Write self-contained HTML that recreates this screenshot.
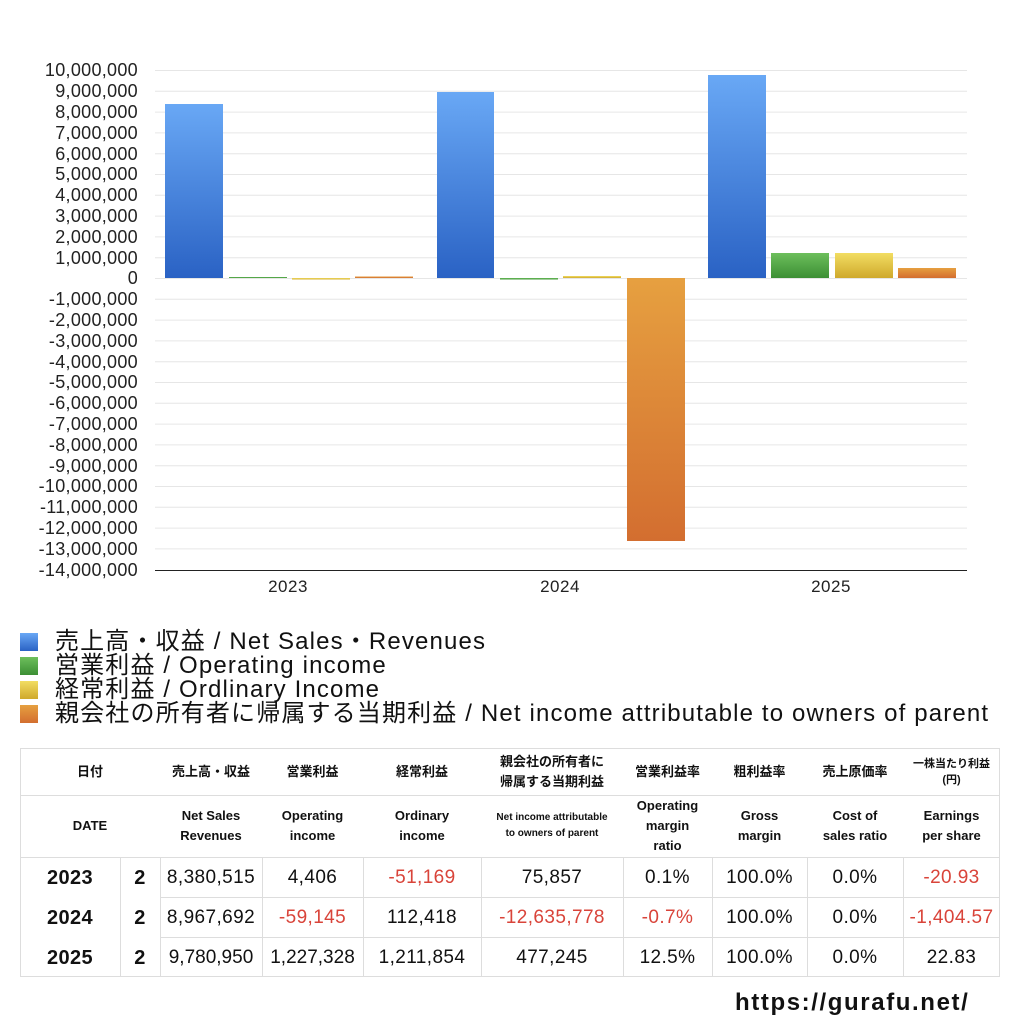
<!DOCTYPE html>
<html><head><meta charset="utf-8"><style>
body{margin:0;width:1024px;height:1024px;background:#fff;position:relative;overflow:hidden;font-family:"Liberation Sans","Noto Sans CJK JP",sans-serif;}
.a{position:absolute;}
.lg{position:absolute;left:20px;width:18px;height:18px;}
.lt{position:absolute;left:55px;font-size:24px;line-height:24px;color:#111;white-space:nowrap;letter-spacing:1.15px;}
.c{position:absolute;display:flex;align-items:center;justify-content:center;text-align:center;color:#111;}
.h{font-size:13px;font-weight:bold;line-height:20px;}
.d{font-size:19px;letter-spacing:0.4px;}
.r{color:#d9443a;}
</style></head><body>
<svg class="a" style="left:0;top:0" width="1024" height="600">
<defs>
<linearGradient id="gb" x1="0" y1="0" x2="0" y2="1"><stop offset="0" stop-color="#69a8f5"/><stop offset="1" stop-color="#2a62c4"/></linearGradient>
<linearGradient id="gg" x1="0" y1="0" x2="0" y2="1"><stop offset="0" stop-color="#6dbf5c"/><stop offset="1" stop-color="#3c8f34"/></linearGradient>
<linearGradient id="gy" x1="0" y1="0" x2="0" y2="1"><stop offset="0" stop-color="#f2dd62"/><stop offset="1" stop-color="#cfa92c"/></linearGradient>
<linearGradient id="go" x1="0" y1="0" x2="0" y2="1"><stop offset="0" stop-color="#e6a040"/><stop offset="1" stop-color="#d36e30"/></linearGradient>
</defs>
<g stroke="#e6e6e6" stroke-width="1">
<line x1="155" x2="967" y1="70.5" y2="70.5"/><line x1="155" x2="967" y1="91.3" y2="91.3"/><line x1="155" x2="967" y1="112.1" y2="112.1"/><line x1="155" x2="967" y1="132.9" y2="132.9"/><line x1="155" x2="967" y1="153.7" y2="153.7"/><line x1="155" x2="967" y1="174.5" y2="174.5"/><line x1="155" x2="967" y1="195.3" y2="195.3"/><line x1="155" x2="967" y1="216.1" y2="216.1"/><line x1="155" x2="967" y1="236.9" y2="236.9"/><line x1="155" x2="967" y1="257.7" y2="257.7"/><line x1="155" x2="967" y1="278.5" y2="278.5"/><line x1="155" x2="967" y1="299.3" y2="299.3"/><line x1="155" x2="967" y1="320.1" y2="320.1"/><line x1="155" x2="967" y1="340.9" y2="340.9"/><line x1="155" x2="967" y1="361.7" y2="361.7"/><line x1="155" x2="967" y1="382.5" y2="382.5"/><line x1="155" x2="967" y1="403.3" y2="403.3"/><line x1="155" x2="967" y1="424.1" y2="424.1"/><line x1="155" x2="967" y1="444.9" y2="444.9"/><line x1="155" x2="967" y1="465.7" y2="465.7"/><line x1="155" x2="967" y1="486.5" y2="486.5"/><line x1="155" x2="967" y1="507.3" y2="507.3"/><line x1="155" x2="967" y1="528.1" y2="528.1"/><line x1="155" x2="967" y1="548.9" y2="548.9"/>
</g>
<line x1="155" x2="967" y1="570.5" y2="570.5" stroke="#222"/>
<rect x="165" y="104" width="58" height="174" fill="url(#gb)"/>
<rect x="229" y="277" width="58" height="1" fill="url(#gg)"/>
<rect x="292" y="278" width="58" height="1.5" fill="url(#gy)"/>
<rect x="355" y="276.5" width="58" height="1.5" fill="url(#go)"/>
<rect x="437" y="92" width="57" height="186" fill="url(#gb)"/>
<rect x="500" y="278" width="58" height="1.5" fill="url(#gg)"/>
<rect x="563" y="276" width="58" height="2" fill="url(#gy)"/>
<rect x="627" y="278" width="58" height="263" fill="url(#go)"/>
<rect x="708" y="75" width="58" height="203" fill="url(#gb)"/>
<rect x="771" y="253" width="58" height="25" fill="url(#gg)"/>
<rect x="835" y="253" width="58" height="25" fill="url(#gy)"/>
<rect x="898" y="268" width="58" height="10" fill="url(#go)"/>
<g font-size="17" fill="#222" text-anchor="middle" font-family="Liberation Sans,sans-serif" letter-spacing="0.5">
<text x="288" y="592">2023</text><text x="560" y="592">2024</text><text x="831" y="592">2025</text>
</g>
<g font-size="18" fill="#222" text-anchor="end" font-family="Liberation Sans,sans-serif" letter-spacing="0.3">
<text x="138" y="76">10,000,000</text><text x="138" y="97">9,000,000</text><text x="138" y="118">8,000,000</text><text x="138" y="139">7,000,000</text><text x="138" y="160">6,000,000</text><text x="138" y="180">5,000,000</text><text x="138" y="201">4,000,000</text><text x="138" y="222">3,000,000</text><text x="138" y="243">2,000,000</text><text x="138" y="264">1,000,000</text><text x="138" y="284">0</text><text x="138" y="305">-1,000,000</text><text x="138" y="326">-2,000,000</text><text x="138" y="347">-3,000,000</text><text x="138" y="368">-4,000,000</text><text x="138" y="388">-5,000,000</text><text x="138" y="409">-6,000,000</text><text x="138" y="430">-7,000,000</text><text x="138" y="451">-8,000,000</text><text x="138" y="472">-9,000,000</text><text x="138" y="492">-10,000,000</text><text x="138" y="513">-11,000,000</text><text x="138" y="534">-12,000,000</text><text x="138" y="555">-13,000,000</text><text x="138" y="576">-14,000,000</text>
</g>
</svg>
<div class="lg" style="top:633px;background:linear-gradient(#69a8f5,#2a62c4)"></div><div class="lt" style="top:630px">売上高・収益 / Net Sales・Revenues</div>
<div class="lg" style="top:657px;background:linear-gradient(#6dbf5c,#3c8f34)"></div><div class="lt" style="top:654px">営業利益 / Operating income</div>
<div class="lg" style="top:681px;background:linear-gradient(#f2dd62,#cfa92c)"></div><div class="lt" style="top:678px">経常利益 / Ordlinary Income</div>
<div class="lg" style="top:705px;background:linear-gradient(#e6a040,#d36e30)"></div><div class="lt" style="top:702px">親会社の所有者に帰属する当期利益 / Net income attributable to owners of parent</div>

<svg class="a" style="left:0;top:0" width="1024" height="1024">
<g stroke="#ddd" stroke-width="1" fill="none">
<rect x="20.5" y="748.5" width="979" height="228"/>
<line x1="20" x2="1000" y1="795.5" y2="795.5"/>
<line x1="20" x2="1000" y1="857.5" y2="857.5"/>
<line x1="160" x2="1000" y1="897.5" y2="897.5"/>
<line x1="160" x2="1000" y1="937.5" y2="937.5"/>
<line x1="120.5" x2="120.5" y1="857" y2="977"/><line x1="160.5" x2="160.5" y1="857" y2="977"/><line x1="262.5" x2="262.5" y1="857" y2="977"/><line x1="363.5" x2="363.5" y1="857" y2="977"/><line x1="481.5" x2="481.5" y1="857" y2="977"/><line x1="623.5" x2="623.5" y1="857" y2="977"/><line x1="712.5" x2="712.5" y1="857" y2="977"/><line x1="807.5" x2="807.5" y1="857" y2="977"/><line x1="903.5" x2="903.5" y1="857" y2="977"/>
</g></svg>
<div class="c h" style="left:20px;top:748px;width:140px;height:47px">日付</div>
<div class="c h" style="left:160px;top:748px;width:102px;height:47px">売上高・収益</div>
<div class="c h" style="left:262px;top:748px;width:101px;height:47px">営業利益</div>
<div class="c h" style="left:363px;top:748px;width:118px;height:47px">経常利益</div>
<div class="c h" style="left:481px;top:748px;width:142px;height:47px">親会社の所有者に<br>帰属する当期利益</div>
<div class="c h" style="left:623px;top:748px;width:89px;height:47px">営業利益率</div>
<div class="c h" style="left:712px;top:748px;width:95px;height:47px">粗利益率</div>
<div class="c h" style="left:807px;top:748px;width:96px;height:47px">売上原価率</div>
<div class="c h" style="left:903px;top:748px;width:97px;height:47px;font-size:11px;line-height:16px">一株当たり利益<br>(円)</div>
<div class="c h" style="left:20px;top:795px;width:140px;height:62px">DATE</div>
<div class="c h" style="left:160px;top:795px;width:102px;height:62px">Net Sales<br>Revenues</div>
<div class="c h" style="left:262px;top:795px;width:101px;height:62px">Operating<br>income</div>
<div class="c h" style="left:363px;top:795px;width:118px;height:62px">Ordinary<br>income</div>
<div class="c h" style="left:481px;top:795px;width:142px;height:62px;font-size:10px;line-height:16px">Net income attributable<br>to owners of parent</div>
<div class="c h" style="left:623px;top:795px;width:89px;height:62px">Operating<br>margin<br>ratio</div>
<div class="c h" style="left:712px;top:795px;width:95px;height:62px">Gross<br>margin</div>
<div class="c h" style="left:807px;top:795px;width:96px;height:62px">Cost of<br>sales ratio</div>
<div class="c h" style="left:903px;top:795px;width:97px;height:62px">Earnings<br>per share</div>

<div class="c d" style="left:20px;top:858px;width:100px;height:40px;font-weight:bold;font-size:20px">2023</div>
<div class="c d" style="left:120px;top:858px;width:40px;height:40px;font-weight:bold;font-size:20px">2</div>
<div class="c d" style="left:160px;top:858px;width:102px;height:40px">8,380,515</div>
<div class="c d" style="left:262px;top:858px;width:101px;height:40px">4,406</div>
<div class="c d r" style="left:363px;top:858px;width:118px;height:40px">-51,169</div>
<div class="c d" style="left:481px;top:858px;width:142px;height:40px">75,857</div>
<div class="c d" style="left:623px;top:858px;width:89px;height:40px">0.1%</div>
<div class="c d" style="left:712px;top:858px;width:95px;height:40px">100.0%</div>
<div class="c d" style="left:807px;top:858px;width:96px;height:40px">0.0%</div>
<div class="c d r" style="left:903px;top:858px;width:97px;height:40px">-20.93</div>

<div class="c d" style="left:20px;top:898px;width:100px;height:40px;font-weight:bold;font-size:20px">2024</div>
<div class="c d" style="left:120px;top:898px;width:40px;height:40px;font-weight:bold;font-size:20px">2</div>
<div class="c d" style="left:160px;top:898px;width:102px;height:40px">8,967,692</div>
<div class="c d r" style="left:262px;top:898px;width:101px;height:40px">-59,145</div>
<div class="c d" style="left:363px;top:898px;width:118px;height:40px">112,418</div>
<div class="c d r" style="left:481px;top:898px;width:142px;height:40px">-12,635,778</div>
<div class="c d r" style="left:623px;top:898px;width:89px;height:40px">-0.7%</div>
<div class="c d" style="left:712px;top:898px;width:95px;height:40px">100.0%</div>
<div class="c d" style="left:807px;top:898px;width:96px;height:40px">0.0%</div>
<div class="c d r" style="left:903px;top:898px;width:97px;height:40px">-1,404.57</div>

<div class="c d" style="left:20px;top:938px;width:100px;height:40px;font-weight:bold;font-size:20px">2025</div>
<div class="c d" style="left:120px;top:938px;width:40px;height:40px;font-weight:bold;font-size:20px">2</div>
<div class="c d" style="left:160px;top:938px;width:102px;height:40px;letter-spacing:0">9,780,950</div>
<div class="c d" style="left:262px;top:938px;width:101px;height:40px;letter-spacing:0">1,227,328</div>
<div class="c d" style="left:363px;top:938px;width:118px;height:40px">1,211,854</div>
<div class="c d" style="left:481px;top:938px;width:142px;height:40px">477,245</div>
<div class="c d" style="left:623px;top:938px;width:89px;height:40px">12.5%</div>
<div class="c d" style="left:712px;top:938px;width:95px;height:40px">100.0%</div>
<div class="c d" style="left:807px;top:938px;width:96px;height:40px">0.0%</div>
<div class="c d" style="left:903px;top:938px;width:97px;height:40px">22.83</div>

<div class="a" style="left:735px;top:989px;font-size:24px;font-weight:bold;color:#111;letter-spacing:1.6px">https://gurafu.net/</div>
</body></html>
